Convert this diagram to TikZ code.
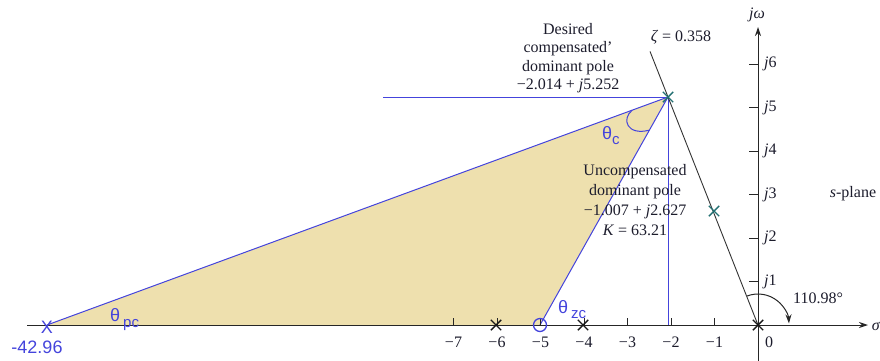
\documentclass[tikz,border=0pt]{standalone}
\usepackage{fontspec}
\setmainfont{Liberation Serif}
\newfontfamily\labfont{Liberation Sans}
\usetikzlibrary{arrows.meta,calc,shapes.misc}
\definecolor{bl}{HTML}{4444DC}
\definecolor{tanf}{HTML}{EEE0AE}
\definecolor{tealx}{HTML}{237072}
\definecolor{txt}{HTML}{1C1C2C}
\begin{document}
\begin{tikzpicture}[x=1pt,y=-1pt,
  txtlab/.style={font=\fontsize{16}{18.5}\selectfont, text=txt, inner sep=0pt},
  bluelab/.style={font=\labfont\fontsize{18}{20}\selectfont, text=bl, inner sep=0pt},
  blueline/.style={draw=bl, line width=1pt},
  axisline/.style={draw=black!85, line width=1pt},
  xmk/.style={cross out, draw=black!90, line width=1.4pt, minimum size=9pt, inner sep=0pt},
  tmk/.style={cross out, draw=tealx, line width=1.4pt, minimum size=9pt, inner sep=0pt},
  arrowtip/.style={-{Stealth[length=9pt,width=6pt]}}]
\useasboundingbox (0,0) rectangle (880,360);

% key points
\coordinate (O) at (758,325);
\coordinate (pd) at (668,97);
\coordinate (pu) at (714,211);
\coordinate (pc) at (47,325);
\coordinate (pz) at (540,325);
\coordinate (hl) at (383,97);
\coordinate (vb) at (668,325);
\coordinate (zt) at ($(O)!1.2!(pd)$);
\coordinate (axL) at (27,325);
\coordinate (axR) at (868,325);
\coordinate (axB) at (758,362);
\coordinate (axT) at (758,27);

% shaded triangle
\fill[tanf] (pc) -- (pd) -- (pz) -- cycle;

% blue construction lines
\draw[blueline] (pc) -- (pd);
\draw[blueline] (pz) -- (pd);
\draw[blueline] (hl) -- (pd);
\draw[blueline] (pd) -- (vb);

% zeta line
\draw[draw=black!80, line width=0.9pt] (O) -- (zt);

% axes
\draw[axisline, arrowtip] (axL) -- (axR);
\draw[axisline, arrowtip] (axB) -- (axT);

% ticks and labels
\foreach \i in {1,...,7} {
  \draw[axisline] ({758-43.5*\i},325) -- ++(0,-7);
  \node[txtlab] (tx\i) at ({758-43.5*\i},342) {−\i};
}
\node[txtlab] (t0) at (769,342) {0};
\foreach \i in {1,...,6} {
  \draw[axisline] (758,{325-43.5*\i}) -- ++(-9,0);
  \node[txtlab, anchor=west] (ty\i) at (764,{325-43.5*\i}) {\textit{j}\i};
}
\node[txtlab] (sig) at (876,326) {\textit{σ}};
\node[txtlab] (jw) at (757,15) {\textit{jω}};

% poles and zeros
\node[xmk] (m6) at (496,325) {};
\node[xmk] (m4) at (583,325) {};
\node[xmk] (m0) at (O) {};
\draw[draw=bl, line width=1.3pt] (pz) circle (6.5);
\node[tmk] (xd) at (pd) {};
\node[tmk] (xu) at (pu) {};

% angle arcs
\draw[blueline] ($(pd)!38pt!(pc)$) .. controls (621,119) and (627,136) .. ($(pd)!38pt!(pz)$);
\draw[draw=black!85, line width=1pt, arrowtip] ([shift={(-111:31)}]O) arc[start angle=-111, end angle=-3, radius=31];

% blue labels
\node[bluelab] (xpc) at (47,327) {X};
\node[bluelab] (npc) at (37,347) {-42.96};
\node[bluelab, anchor=base west] (thpc) at (110,321) {θ\hspace{3pt}\raisebox{-6pt}{\fontsize{15}{15}\selectfont pc}};
\node[bluelab, anchor=base west] (thzc) at (558,313) {θ\hspace{3pt}\raisebox{-5pt}{\fontsize{15}{15}\selectfont zc}};
\node[bluelab, anchor=base west] (thc) at (602,139) {θ\raisebox{-5pt}{\fontsize{15}{15}\selectfont c}};

% text labels
\node[txtlab, align=center] (dlab) at (568,58) {Desired\\compensated'\\dominant pole\\−2.014 + \textit{j}5.252};
\node[txtlab, align=center, font=\fontsize{16}{20}\selectfont] (ulab) at (635,200) {Uncompensated\\dominant pole\\−1.007 + \textit{j}2.627\\\textit{K} = 63.21};
\node[txtlab] (zlab) at (681,37) {\textit{ζ} = 0.358};
\node[txtlab] (alab) at (818,298) {110.98°};
\node[txtlab] (splane) at (853,194) {\textit{s}-plane};
\end{tikzpicture}
\end{document}
